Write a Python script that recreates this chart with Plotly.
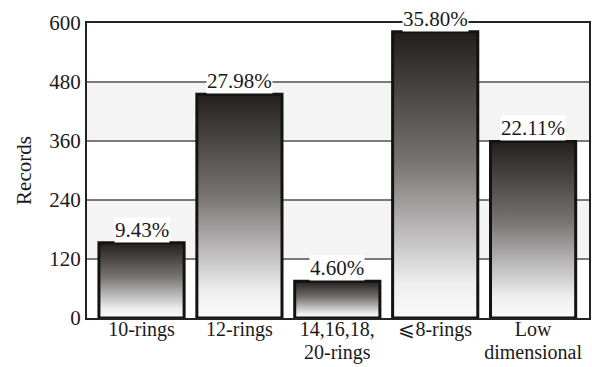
import plotly.graph_objects as go

# Zeolite framework classes and their record counts
categories = ["10-rings", "12-rings", "14,16,18,<br>20-rings", "⩽8-rings", "Low<br>dimensional"]
records = [153, 455, 75, 582, 359]
shares = ["9.43%", "27.98%", "4.60%", "35.80%", "22.11%"]
y_ticks = [0, 120, 240, 360, 480, 600]

BAR_W = 0.87
SERIF = "Liberation Serif, Times New Roman, serif"
X_RANGE = [-0.557, 4.571]

# Category names split into a first and a second label row
first_row = [c.split("<br>")[0] for c in categories]
second_row = [c.split("<br>")[1] if "<br>" in c else "" for c in categories]
positions = list(range(len(categories)))

fig = go.Figure()

# Each bar is a closed polygon with a vertical dark-to-white gradient fill
for i, (v, lab) in enumerate(zip(records, shares)):
    x0, x1 = i - BAR_W / 2, i + BAR_W / 2
    fig.add_trace(go.Scatter(
        x=[x0, x0, x1, x1, x0],
        y=[0, v, v, 0, 0],
        mode="lines",
        fill="toself",
        fillgradient=dict(
            type="vertical",
            colorscale=[[0, "#fbfbfb"], [0.12, "#eeeeee"], [0.55, "#777373"], [1, "#231f1f"]],
        ),
        line=dict(color="#151212", width=3),
        hoverinfo="skip",
        showlegend=False,
    ))
    fig.add_annotation(
        x=i, y=v, text=lab, showarrow=False, yanchor="bottom", yshift=0,
        font=dict(family=SERIF, size=21, color="#1a1a1a"),
        bgcolor="white", borderpad=0,
    )

# Invisible trace so the second label row axis is drawn
fig.add_trace(go.Scatter(x=positions, y=[0] * len(positions), xaxis="x2", mode="none",
                         hoverinfo="skip", showlegend=False))

# Alternating light bands between gridlines
for lo, hi in [(120, 240), (360, 480)]:
    fig.add_shape(type="rect", xref="paper", yref="y", x0=0, x1=1, y0=lo, y1=hi,
                  fillcolor="#f4f4f4", line_width=0, layer="below")

fig.update_layout(
    width=592, height=367,
    margin=dict(l=87, r=3, t=23, b=49),
    paper_bgcolor="white", plot_bgcolor="white",
    font=dict(family=SERIF, size=21, color="#1a1a1a"),
    xaxis=dict(
        range=X_RANGE, tickvals=positions, ticktext=first_row,
        showgrid=False, zeroline=False, showline=True, linecolor="#222", linewidth=2,
        mirror=True, ticks="", tickfont=dict(size=20), ticklabelstandoff=-8,
        automargin=False,
    ),
    xaxis2=dict(
        range=X_RANGE, tickvals=positions, ticktext=second_row, overlaying="x",
        anchor="y", side="bottom", showgrid=False, zeroline=False, showline=False,
        ticks="", tickfont=dict(size=20), ticklabelstandoff=20, automargin=False,
    ),
    yaxis=dict(
        range=[0, 600], tickvals=y_ticks, showgrid=True, gridcolor="#7a7a7a", gridwidth=1.5,
        zeroline=False, showline=True, linecolor="#222", linewidth=2, mirror=True,
        ticks="", tickfont=dict(size=21), ticklabelstandoff=0, automargin=False,
        title=dict(text="Records", font=dict(size=21), standoff=12),
    ),
)

fig.write_html("out.html")
